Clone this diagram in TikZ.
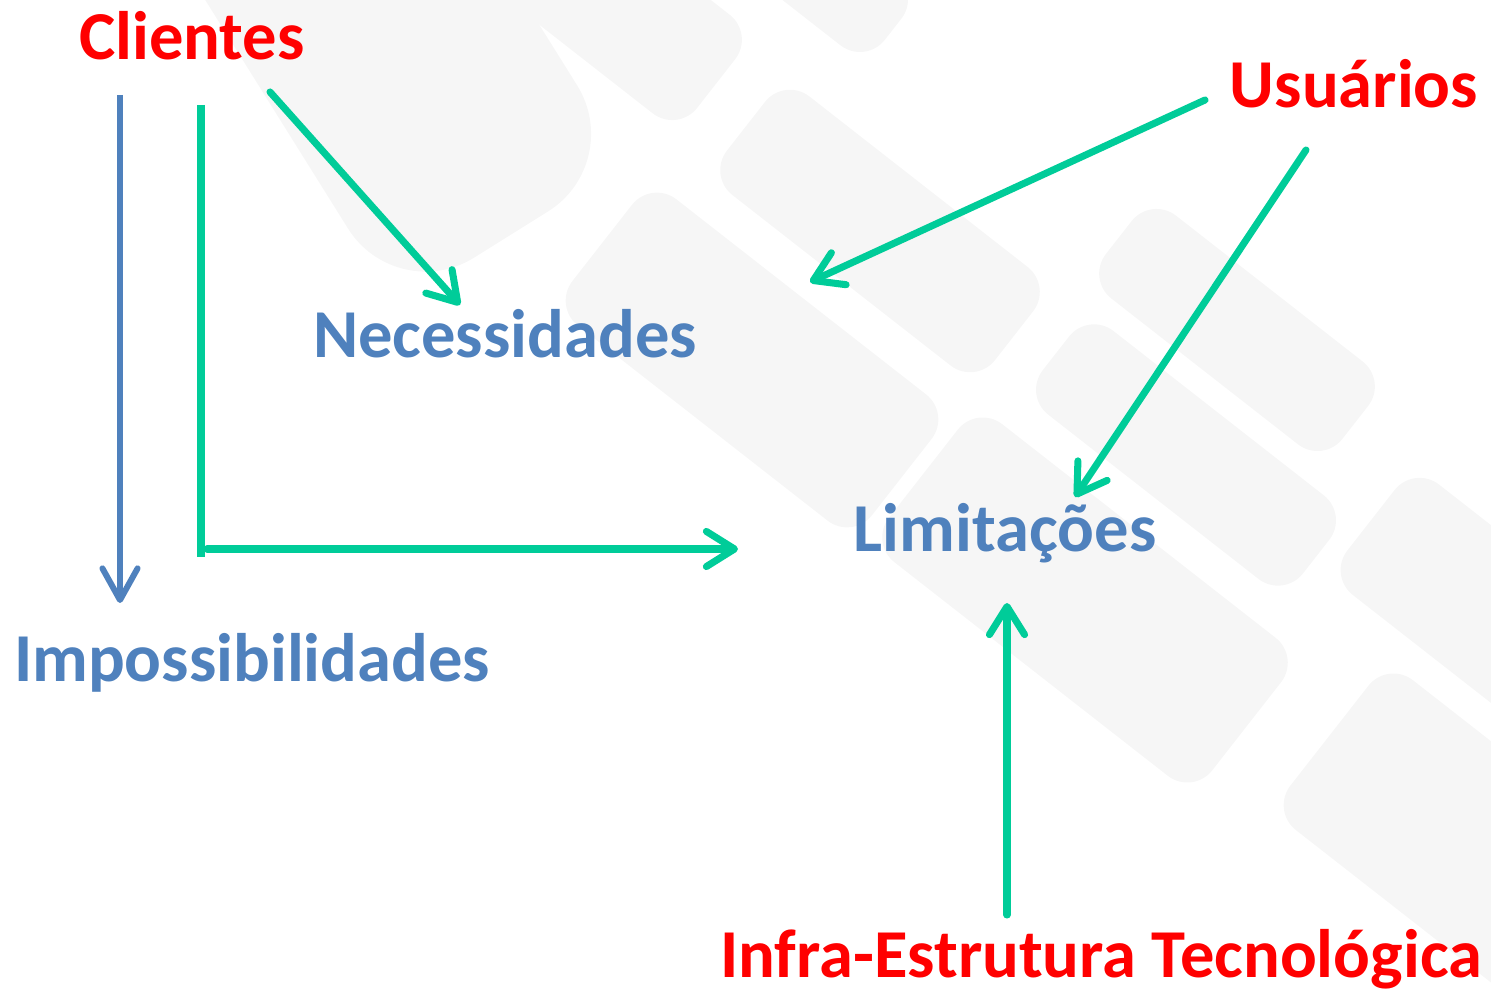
\documentclass[tikz,border=0pt]{standalone}
\usepackage{fontspec}
\setmainfont{Carlito}
\usetikzlibrary{arrows.meta}
\definecolor{tRed}{RGB}{255,0,0}
\definecolor{tBlue}{RGB}{79,129,189}
\definecolor{tGreen}{RGB}{0,204,153}
\definecolor{keyGray}{RGB}{246,246,246}
\tikzset{
  keybox/.style={fill=keyGray, draw=none, rounded corners=9pt, rotate=-38, inner sep=0pt},
  lbl/.style={inner sep=0pt, anchor=base, font=\fontsize{19.5}{22}\selectfont\bfseries},
  src/.style={lbl, text=tRed},
  tgt/.style={lbl, text=tBlue},
  garrow/.style={draw=tGreen, line width=2pt, line cap=round, -{Straight Barb[round, length=8pt, width=10pt]}},
  barrow/.style={draw=tBlue, line width=1.7pt, -{Straight Barb[round, length=9pt, width=10pt]}},
  gline/.style={draw=tGreen, line width=2pt}
}
\begin{document}
\begin{tikzpicture}[x=0.01cm, y=-0.01cm]
\useasboundingbox (0,0) rectangle (1491,992);
% faint keyboard watermark
\node[keybox, rotate=-20, rounded corners=26pt, minimum width=6.0cm, minimum height=2.7cm] (k0) at (352,-20) {};
\node[keybox, minimum width=3.2cm, minimum height=1.25cm] (k1) at (590,-15) {};
\node[keybox, minimum width=1.6cm, minimum height=0.9cm] (k1b) at (830,-20) {};
\node[keybox, minimum width=3.8cm, minimum height=1.6cm] (k2) at (752,360) {};
\node[keybox, minimum width=3.4cm, minimum height=1.25cm] (k3) at (880,231) {};
\node[keybox, minimum width=3.0cm, minimum height=1.05cm] (k4) at (1237,330) {};
\node[keybox, minimum width=3.3cm, minimum height=1.06cm] (k5) at (1186,455) {};
\node[keybox, minimum width=4.1cm, minimum height=1.75cm] (k6) at (1085,600) {};
\node[keybox, minimum width=3.4cm, minimum height=1.4cm] (k7) at (1505,625) {};
\node[keybox, minimum width=4.2cm, minimum height=1.9cm] (k8) at (1495,865) {};
% labels
\node[src] (cli) at (192,60) {Clientes};
\node[src] (usu) at (1354,108) {Usuários};
\node[src] (inf) at (1101,977) {Infra-Estrutura Tecnológica};
\node[tgt] (nec) at (505,358) {Necessidades};
\node[tgt] (lim) at (1005,552) {Limitações};
\node[tgt] (imp) at (252,682) {Impossibilidades};
% connector ends
\coordinate (a1) at (120,95);   \coordinate (a1e) at (120,603);
\coordinate (b1) at (201,105);  \coordinate (b1e) at (201,557);
\coordinate (b2) at (207,549);  \coordinate (b2e) at (738,549);
\coordinate (c1) at (270,92);   \coordinate (c1e) at (460,305);
\coordinate (d1) at (1205,100); \coordinate (d1e) at (810,282);
\coordinate (e1) at (1306,150); \coordinate (e1e) at (1075,497);
\coordinate (f1) at (1007,915); \coordinate (f1e) at (1007,603);
% connectors
\draw[barrow] (a1) -- (a1e);
\draw[gline] (b1) -- (b1e);
\draw[garrow] (b2) -- (b2e);
\draw[garrow] (c1) -- (c1e);
\draw[garrow] (d1) -- (d1e);
\draw[garrow] (e1) -- (e1e);
\draw[garrow] (f1) -- (f1e);
\end{tikzpicture}
\end{document}
